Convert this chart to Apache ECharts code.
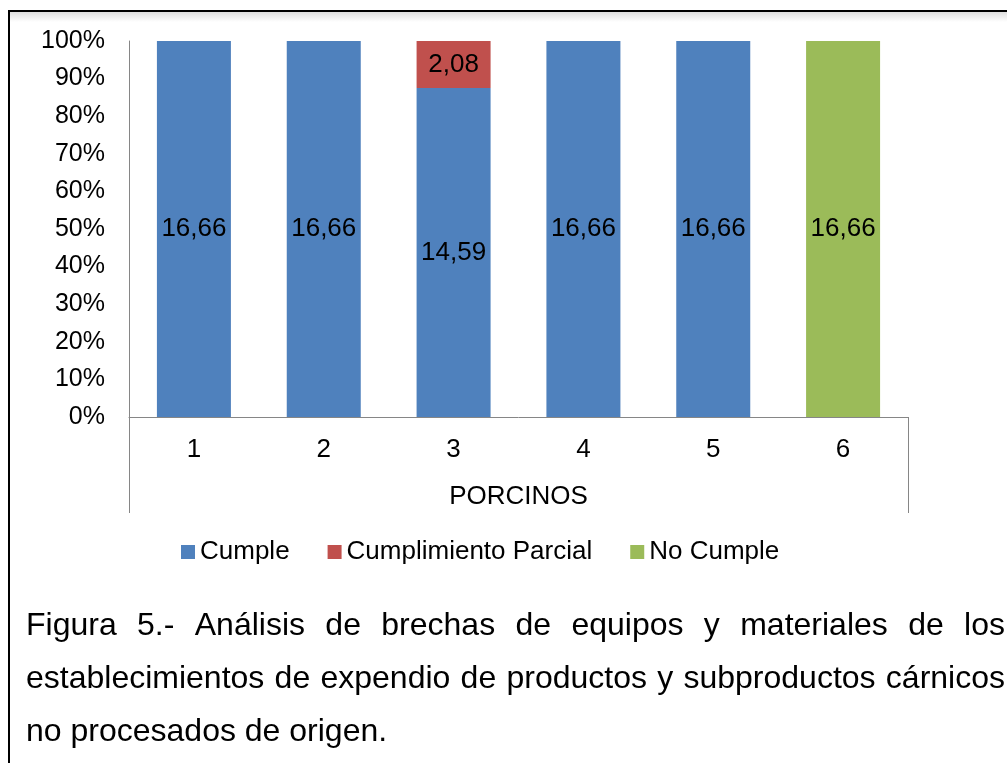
<!DOCTYPE html>
<html>
<head>
<meta charset="utf-8">
<script src="https://cdn.jsdelivr.net/npm/echarts@6/dist/echarts.min.js"></script>
<style>
  html, body { margin: 0; padding: 0; background: #fff; }
  #chart { width: 1007px; height: 763px; }
</style>
</head>
<body>
<div id="chart"></div>
<script>
// Category labels and raw values per compliance level
const categories = ['1', '2', '3', '4', '5', '6'];
const cumple = [16.66, 16.66, 14.59, 16.66, 16.66, 0];
const parcial = [0, 0, 2.08, 0, 0, 0];
const noCumple = [0, 0, 0, 0, 0, 16.66];
const seriesNames = ['Cumple', 'Cumplimiento Parcial', 'No Cumple'];
const seriesColors = ['#4F81BD', '#C0504D', '#9BBB59'];
const axisTitle = 'PORCINOS';
const yTickStep = 10;

// Figure caption, one entry per printed line (last line is not justified)
const captionLines = [
  'Figura 5.- Análisis de brechas de equipos y materiales de los',
  'establecimientos de expendio de productos y subproductos cárnicos',
  'no procesados de origen.'
];

const FONT = '"Liberation Sans", Arial, Helvetica, sans-serif';
const AXIS_GRAY = '#868686';
const TXT = 26;

// 100% stacking: each value as a share of its category total
const totals = categories.map((_, i) => cumple[i] + parcial[i] + noCumple[i]);
const toShare = arr => arr.map((v, i) => ({ value: totals[i] ? v / totals[i] * 100 : 0, raw: v }));

const fmtComma = v => v.toFixed(2).replace('.', ',');

function makeSeries(name, arr, color) {
  return {
    name: name,
    type: 'bar',
    stack: 'all',
    barWidth: 74,
    itemStyle: { color: color },
    label: {
      show: true,
      position: 'inside',
      color: '#000',
      fontFamily: FONT,
      fontSize: TXT,
      formatter: p => (p.data.raw ? fmtComma(p.data.raw) : '')
    },
    emphasis: { disabled: true },
    data: toShare(arr)
  };
}

// Justified caption laid out word by word
const measureCtx = document.createElement('canvas').getContext('2d');
const capSize = 32;
measureCtx.font = capSize + 'px ' + FONT;
const capLeft = 26, capRight = 1005;
const capMiddles = [626, 679, 732];
const captionGraphics = [];
captionLines.forEach((line, li) => {
  const words = line.split(' ');
  const widths = words.map(w => measureCtx.measureText(w).width);
  const total = widths.reduce((a, b) => a + b, 0);
  const justify = li < captionLines.length - 1;
  const gap = justify ? (capRight - capLeft - total) / (words.length - 1) : measureCtx.measureText(' ').width;
  let x = capLeft;
  words.forEach((w, wi) => {
    captionGraphics.push({
      type: 'text',
      silent: true,
      style: {
        x: x, y: capMiddles[li], text: w,
        fill: '#000',
        font: capSize + 'px ' + FONT,
        verticalAlign: 'middle', align: 'left'
      }
    });
    x += widths[wi] + gap;
  });
});

const chart = echarts.init(document.getElementById('chart'), null, { renderer: 'canvas' });

const option = {
  animation: false,
  backgroundColor: '#fff',
  textStyle: { fontFamily: FONT },
  grid: { left: 129, right: 99, top: 41, bottom: 346, containLabel: false },
  legend: {
    left: 176,
    top: 534,
    itemWidth: 14,
    itemHeight: 14,
    itemGap: 38,
    icon: 'rect',
    selectedMode: false,
    textStyle: { color: '#000', fontSize: TXT, fontFamily: FONT },
    data: seriesNames
  },
  xAxis: {
    type: 'category',
    data: categories,
    axisLine: { show: true, lineStyle: { color: AXIS_GRAY, width: 1 } },
    axisTick: { show: false },
    axisLabel: { color: '#000', fontSize: TXT, fontFamily: FONT, margin: 20 },
    name: axisTitle,
    nameLocation: 'middle',
    nameGap: 67,
    nameTextStyle: { color: '#000', fontSize: TXT, fontFamily: FONT },
    splitLine: { show: false }
  },
  yAxis: {
    type: 'value',
    min: 0,
    max: 100,
    interval: yTickStep,
    axisLine: { show: true, lineStyle: { color: AXIS_GRAY, width: 1 } },
    axisTick: { show: false },
    axisLabel: { color: '#000', fontSize: 25, fontFamily: FONT, margin: 24, formatter: '{value}%' },
    splitLine: { show: false }
  },
  series: [
    makeSeries(seriesNames[0], cumple, seriesColors[0]),
    makeSeries(seriesNames[1], parcial, seriesColors[1]),
    makeSeries(seriesNames[2], noCumple, seriesColors[2])
  ]
};
chart.setOption(option);

// Category-axis frame lines below the plot and the surrounding figure box
const origin = chart.convertToPixel({ gridIndex: 0 }, [0, 0]);
const grid = chart.getModel().getComponent('grid').coordinateSystem.getRect();
const xL = Math.round(grid.x) + 0.5;
const xR = Math.round(grid.x + grid.width) + 0.5;
const yB = Math.round(origin[1]);
const frameBottom = yB + 96;

chart.setOption({
  graphic: [
    {
      type: 'rect', silent: true, z: 0,
      shape: { x: 10, y: 12, width: 1000, height: 10 },
      style: {
        fill: new echarts.graphic.LinearGradient(0, 0, 0, 1, [
          { offset: 0, color: 'rgba(0,0,0,0.13)' },
          { offset: 1, color: 'rgba(0,0,0,0)' }
        ])
      }
    },
    {
      type: 'rect', silent: true, z: 10,
      shape: { x: 9, y: 11, width: 1010, height: 770 },
      style: { fill: 'none', stroke: '#000', lineWidth: 2 }
    },
    {
      type: 'line', silent: true, z: 5,
      shape: { x1: xL, y1: yB, x2: xL, y2: frameBottom },
      style: { stroke: AXIS_GRAY, lineWidth: 1 }
    },
    {
      type: 'line', silent: true, z: 5,
      shape: { x1: xR, y1: yB, x2: xR, y2: frameBottom },
      style: { stroke: AXIS_GRAY, lineWidth: 1 }
    }
  ].concat(captionGraphics)
});
</script>
</body>
</html>
